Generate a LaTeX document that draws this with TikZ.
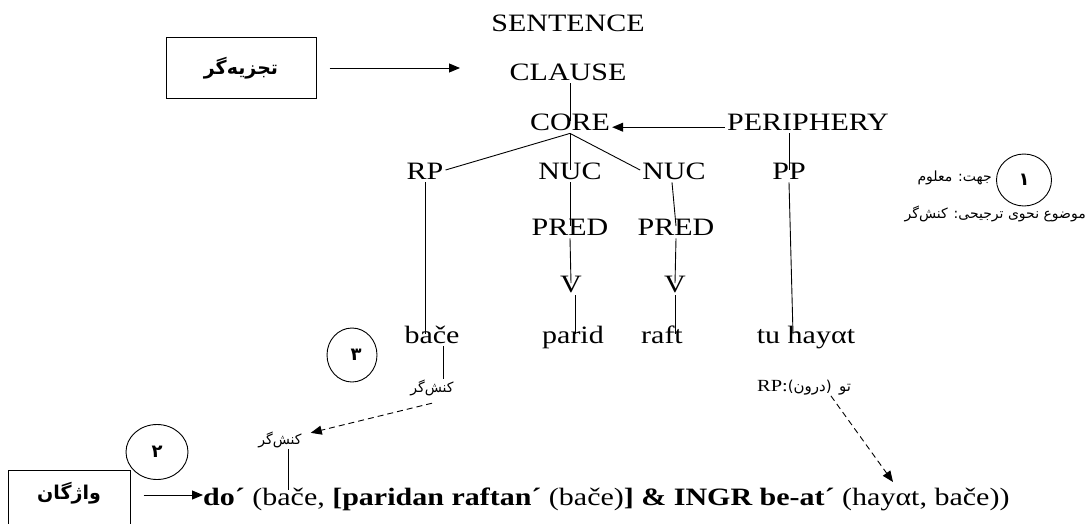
\documentclass[tikz,border=0pt]{standalone}
\usepackage{fontspec}
\setmainfont[FakeStretch=1.2]{Liberation Serif}
\newfontfamily\ar[Script=Arabic]{DejaVu Sans}
\TeXXeTstate=1
\usetikzlibrary{arrows.meta,shapes.geometric}
\begin{document}
\begin{tikzpicture}[x=1pt,y=-1pt,
  lbl/.style={inner sep=2pt, text height=0.68em, text depth=0.12em, font=\fontsize{25}{28}\selectfont},
  fa/.style={inner sep=1pt, font=\ar\fontsize{14}{17}\selectfont},
  box/.style={draw, line width=1pt, minimum width=150, minimum height=61, font=\ar\bfseries\fontsize{19}{22}\selectfont},
  num/.style={draw, line width=0.9pt, ellipse, inner sep=0pt, font=\ar\bfseries\fontsize{18}{20}\selectfont},
  tree/.style={line width=0.9pt},
  arr/.style={line width=0.9pt, -{Triangle[length=11pt,width=9pt]}},
  darr/.style={line width=0.9pt, dash pattern=on 6pt off 4pt, -{Triangle[length=11pt,width=9pt]}}
]
\useasboundingbox (0,0) rectangle (1089,523);

% top tree
\node[lbl, anchor=base] (sent) at (568,31) {SENTENCE};
\node[box] (parser) at (241,68) {تجزیه‌گر};
\coordinate (pend) at (460,68);
\draw[arr] ([xshift=13pt]parser.east) -- (pend);
\node[lbl, anchor=base] (clause) at (568,80) {CLAUSE};
\node[lbl, anchor=base] (core) at (570,130) {CORE};
\node[lbl, anchor=base] (peri) at (808,130) {PERIPHERY};
\node[lbl, anchor=base] (rp) at (425,179) {RP};
\node[lbl, anchor=base] (nuc1) at (570,179) {NUC};
\node[lbl, anchor=base] (nuc2) at (674,179) {NUC};
\node[lbl, anchor=base] (pp) at (789,179) {PP};
\node[lbl, anchor=base] (pred1) at (570,235) {PRED};
\node[lbl, anchor=base] (pred2) at (676,235) {PRED};
\node[lbl, anchor=base] (v1) at (571,292) {V};
\node[lbl, anchor=base] (v2) at (675,292) {V};
\node[lbl, anchor=base] (bace) at (432,343) {bače};
\node[lbl, anchor=base] (parid) at (573,343) {parid};
\node[lbl, anchor=base] (raft) at (662,343) {raft};
\node[lbl, anchor=base] (tuh) at (806,343) {tu hayαt};

\draw[tree] (clause.south -| core.north) -- (core.north);
\draw[arr] (peri.west) -- (core.east);
\draw[tree] (core.south) -- (rp.north east);
\draw[tree] (core.south) -- (core.south |- nuc1.north);
\draw[tree] (core.south) -- (nuc2.north west);
\draw[tree] (peri.south -| pp.north) -- (pp.north);
\draw[tree] (rp.south) -- (rp.south |- bace.north);
\draw[tree] (pp.south) -- ([xshift=4pt]pp.south |- tuh.north);
\draw[tree] (nuc1.south) -- (pred1.north);
\draw[tree] (pred1.south) -- (v1.north);
\draw[tree] ([xshift=4pt]v1.south) -- ([xshift=2pt]parid.north);
\draw[tree] ([xshift=-2pt]nuc2.south) -- (pred2.north);
\draw[tree] (pred2.south) -- (v2.north);
\draw[tree] (v2.south) -- ([xshift=13pt]raft.north);

% right notes
\node[num, minimum width=55, minimum height=52] (c1) at (1024,180) {۱};
\node[fa, anchor=east] (dir) at (993,178) {\beginR جهت: معلوم\endR};
\node[fa, anchor=east] (psa) at (1087,214) {\beginR موضوع نحوی ترجیحی: کنش‌گر\endR};

% lower part
\node[num, minimum width=50, minimum height=54] (c3) at (352,355) {\hspace*{8pt}۳};
\node[fa] (ag1) at (432,388) {کنش‌گر};
\node[fa] (ag2) at (280,440) {کنش‌گر};
\node[num, minimum width=62, minimum height=55] (c2) at (157,452) {۲};
\node[box, minimum width=122, minimum height=62] (lex) at (69,501) {};
\node[font=\ar\bfseries\fontsize{19}{22}\selectfont] (lext) at (69,493) {واژگان};
\node[inner sep=0pt, anchor=base west, font=\fontsize{25}{28}\selectfont] (form) at (203,505)
  {\textbf{do´} (bače, \textbf{[paridan raftan´} (bače)\textbf{] \& INGR be-at´} (hayαt, bače))};
\coordinate (fin) at (203,495);
\draw[arr] ([xshift=13pt]lex.east |- fin) -- (fin);

\node[inner sep=1pt, anchor=base west, font=\fontsize{17}{20}\selectfont] (rplab) at (756,391)
  {RP:{\ar\fontsize{15}{18}\selectfont(درون)}};
\node[inner sep=1pt, anchor=base west, font=\ar\fontsize{15}{18}\selectfont] (rplab2) at ([xshift=5pt]rplab.base east) {تو};
\coordinate (rpend) at (893,482);
\draw[darr] ([xshift=-2pt]rplab.south east) -- (rpend);

\draw[tree] ([xshift=11pt]bace.south) -- ([xshift=11pt]bace.south |- ag1.north);
\draw[darr] ([yshift=-6pt]ag1.south) -- ([xshift=8pt,yshift=-2pt]ag2.north east);
\coordinate (agend) at (288,490);
\draw[tree] (ag2.south -| agend) -- (agend);
\end{tikzpicture}
\end{document}
